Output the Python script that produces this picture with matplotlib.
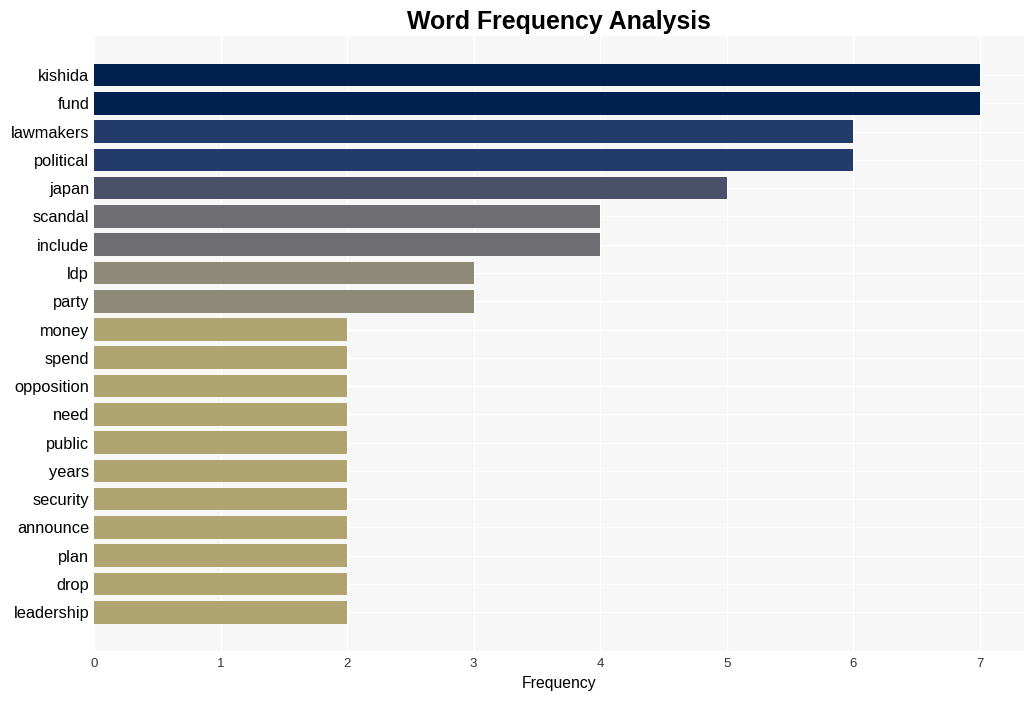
import matplotlib
matplotlib.use("Agg")
import matplotlib.pyplot as plt

words = ["kishida", "fund", "lawmakers", "political", "japan", "scandal", "include",
         "ldp", "party", "money", "spend", "opposition", "need", "public", "years",
         "security", "announce", "plan", "drop", "leadership"]
counts = [7, 7, 6, 6, 5, 4, 4, 3, 3, 2, 2, 2, 2, 2, 2, 2, 2, 2, 2, 2]
value_colors = {7: "#00204f", 6: "#223a6c", 5: "#4a5069", 4: "#6e6e72", 3: "#8e8a78", 2: "#b0a570"}

plt.rcParams['font.family'] = ['Liberation Sans', 'DejaVu Sans']

fig = plt.figure(figsize=(10.34, 7.01), dpi=100)
ax = fig.add_axes([0.0909, 0.0713, 0.8994, 0.8773])
ax.set_facecolor("#f7f7f7")

ypos = list(range(len(words)))
ax.barh(ypos, counts, height=0.8, color=[value_colors[c] for c in counts], zorder=3)
ax.set_yticks(ypos)
ax.set_yticklabels(words, fontsize=11.8)
ax.set_ylim(len(words) - 1 + 1.37, -1.38)
ax.set_xlim(0, 7.35)
ax.set_xticks(range(0, 8))
ax.tick_params(axis='x', labelsize=9.5, length=0, pad=5, colors="#333333")
ax.tick_params(axis='y', length=0, pad=3.5)
ax.grid(True, axis='both', color="white", linewidth=1, zorder=0)
for s in ax.spines.values():
    s.set_visible(False)
ax.set_xlabel("Frequency", fontsize=11.3, labelpad=4)
ax.set_title("Word Frequency Analysis", fontsize=17.9, fontweight="bold", pad=5)

fig.savefig("out.png", dpi=100)
